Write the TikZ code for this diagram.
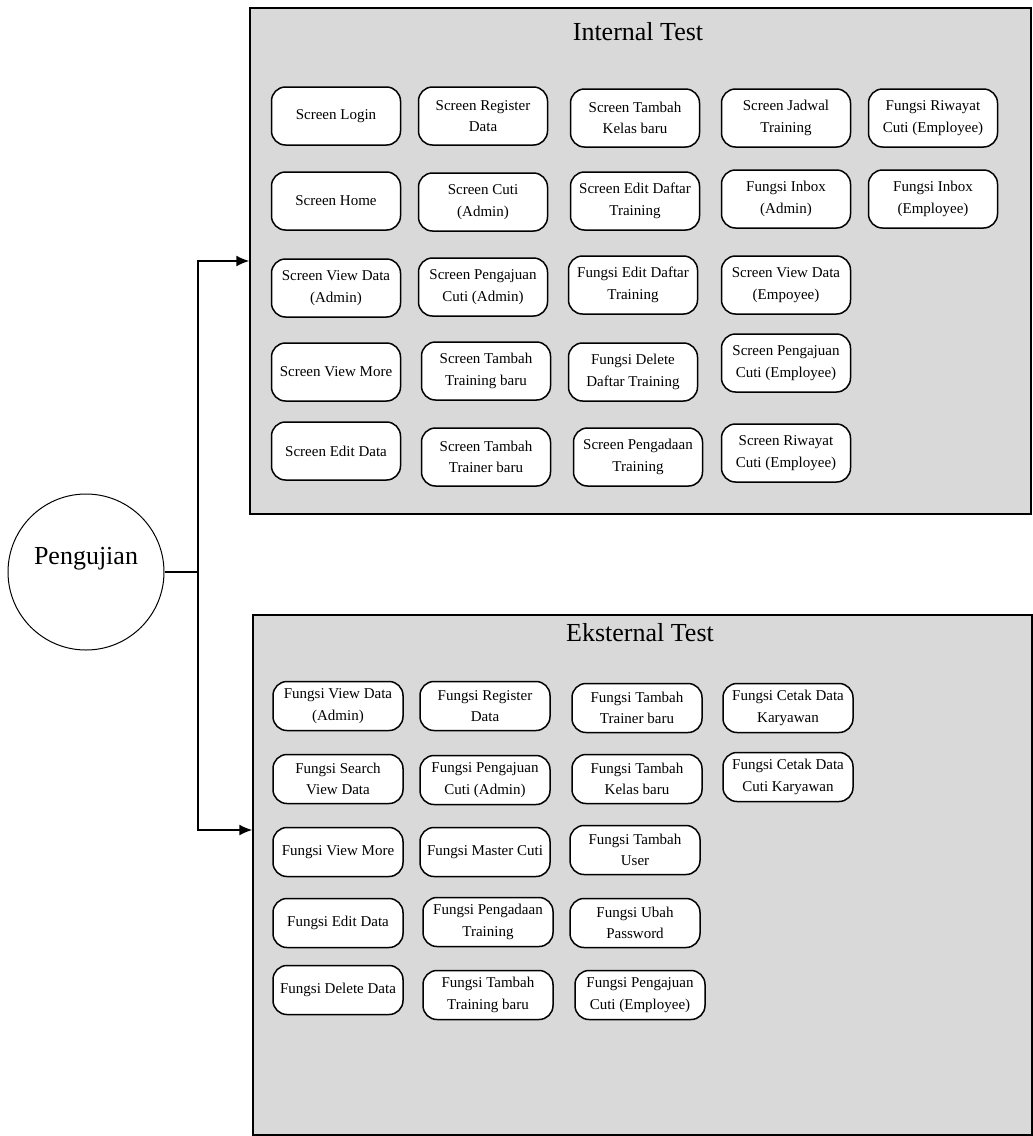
\documentclass[tikz,border=0pt]{standalone}
\usepackage{fontspec}
\setmainfont{Liberation Serif}
\usetikzlibrary{arrows.meta}
\definecolor{boxgray}{RGB}{217,217,217}

\begin{document}
\begin{tikzpicture}[
    x = 1pt, y = -1pt, % pixel units, y going down
    > = {Latex[length=13pt, width=11pt]}, % arrow head style
    line width = 1.5pt, % line style
    font = \fontsize{15}{21.5}\selectfont
]

\tikzstyle{testbox}=[
    draw,
    fill = boxgray,
    inner sep = 0pt,
]
\tikzstyle{intstep}=[
    draw,
    fill = white,
    rounded corners = 14pt,
    align = center,
    inner sep = 1pt,
    minimum width = 129pt,
    minimum height = 58pt,
]
\tikzstyle{ekstep}=[
    intstep,
    minimum width = 130pt,
    minimum height = 49pt,
]
\tikzstyle{heading}=[font = \fontsize{26}{30}\selectfont]

\useasboundingbox (0,0) rectangle (1033,1136);

% root
\node[draw, circle, line width=1pt, minimum size=156pt, text depth=32pt,
    font=\fontsize{26}{30}\selectfont] (peng) at (86,572) {Pengujian};
\coordinate (jn) at (198,572);

% internal test
\node[testbox, minimum width=781pt, minimum height=506pt] (intbox) at (640.5,261) {};
\node[heading] (inttitle) at (638,32) {Internal Test};

\node[intstep] (slogin) at (336,116) {Screen Login};
\node[intstep] (sregister) at (483,116) {Screen Register\\Data};
\node[intstep] (skelas) at (635,118) {Screen Tambah\\Kelas baru};
\node[intstep] (sjadwal) at (786,118) {Screen Jadwal\\Training};
\node[intstep] (friwayat) at (933,118) {Fungsi Riwayat\\Cuti (Employee)};

\node[intstep] (shome) at (336,201) {Screen Home};
\node[intstep] (scuti) at (483,202) {Screen Cuti\\(Admin)};
\node[intstep] (seditdaftar) at (635,201) {Screen Edit Daftar\\Training};
\node[intstep] (finboxadm) at (786,199) {Fungsi Inbox\\(Admin)};
\node[intstep] (finboxemp) at (933,199) {Fungsi Inbox\\(Employee)};

\node[intstep] (sviewadm) at (336,288) {Screen View Data\\(Admin)};
\node[intstep] (spengadm) at (483,287) {Screen Pengajuan\\Cuti (Admin)};
\node[intstep] (feditdaftar) at (633,285) {Fungsi Edit Daftar\\Training};
\node[intstep] (sviewemp) at (786,285) {Screen View Data\\(Empoyee)};

\node[intstep] (sviewmore) at (336,372) {Screen View More};
\node[intstep] (straining) at (486,371) {Screen Tambah\\Training baru};
\node[intstep] (fdeldaftar) at (633,372) {Fungsi Delete\\Daftar Training};
\node[intstep] (spengemp) at (786,363) {Screen Pengajuan\\Cuti (Employee)};

\node[intstep] (seditdata) at (336,451) {Screen Edit Data};
\node[intstep] (strainer) at (486,457) {Screen Tambah\\Trainer baru};
\node[intstep] (spengadaan) at (638,457) {Screen Pengadaan\\Training};
\node[intstep] (sriwayat) at (786,453) {Screen Riwayat\\Cuti (Employee)};

% eksternal test
\node[testbox, minimum width=779pt, minimum height=520pt] (ekbox) at (642.5,875) {};
\node[heading] (ektitle) at (640,633) {Eksternal Test};

\node[ekstep] (fviewadm) at (338,706) {Fungsi View Data\\(Admin)};
\node[ekstep] (fregister) at (485,706) {Fungsi Register\\Data};
\node[ekstep] (ftrainer) at (637,708) {Fungsi Tambah\\Trainer baru};
\node[ekstep] (fcetak) at (788,708) {Fungsi Cetak Data\\Karyawan};

\node[ekstep] (fsearch) at (338,779) {Fungsi Search\\View Data};
\node[ekstep] (fpengadm) at (485,780) {Fungsi Pengajuan\\Cuti (Admin)};
\node[ekstep] (fkelas) at (637,779) {Fungsi Tambah\\Kelas baru};
\node[ekstep] (fcetakcuti) at (788,777) {Fungsi Cetak Data\\Cuti Karyawan};

\node[ekstep] (fviewmore) at (338,852) {Fungsi View More};
\node[ekstep] (fmaster) at (485,852) {Fungsi Master Cuti};
\node[ekstep] (fuser) at (635,850) {Fungsi Tambah\\User};

\node[ekstep] (feditdata) at (338,923) {Fungsi Edit Data};
\node[ekstep] (fpengadaan) at (488,922) {Fungsi Pengadaan\\Training};
\node[ekstep] (fpassword) at (635,923) {Fungsi Ubah\\Password};

\node[ekstep] (fdeldata) at (338,990) {Fungsi Delete Data};
\node[ekstep] (ftraining) at (488,995) {Fungsi Tambah\\Training baru};
\node[ekstep] (fpengemp) at (640,995) {Fungsi Pengajuan\\Cuti (Employee)};

% connectors
\draw (peng.east) -- (jn);
\draw[->] (jn) |- (intbox.west);
\draw[->] (jn) |- ([yshift=45pt]ekbox.west);
\end{tikzpicture}
\end{document}
